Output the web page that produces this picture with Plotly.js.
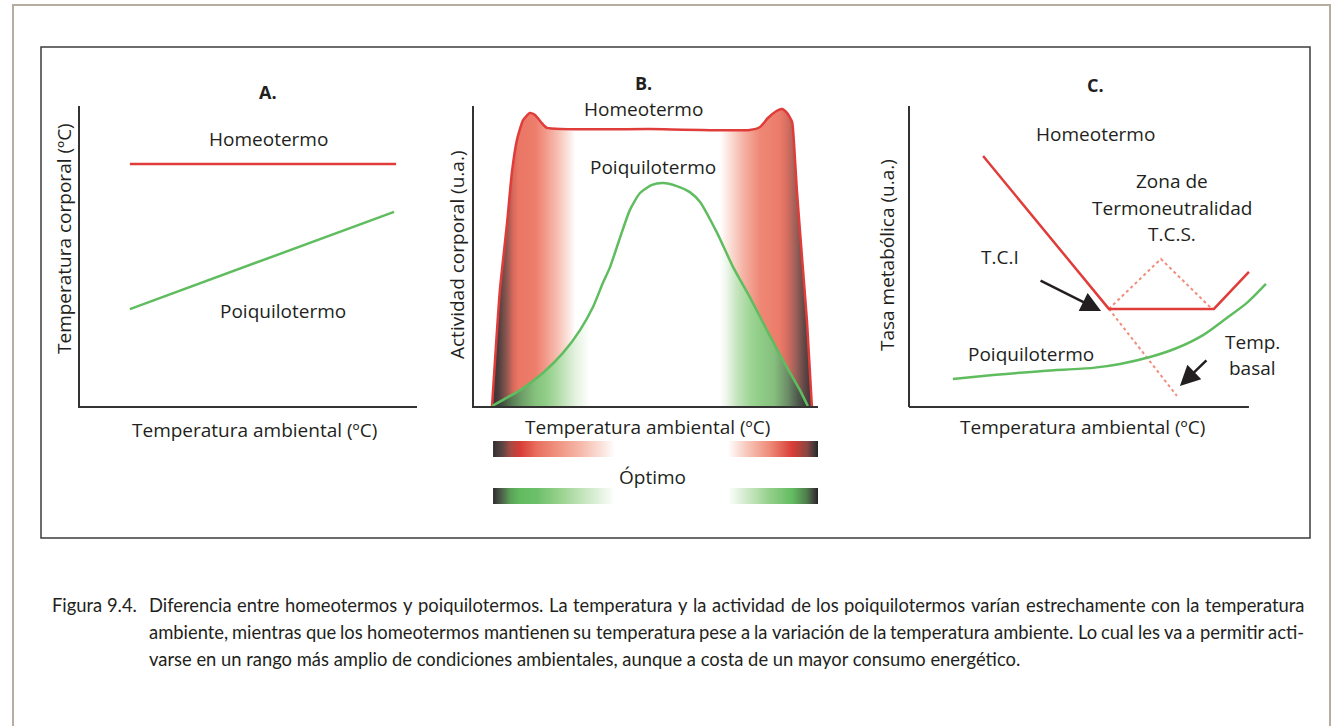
<!DOCTYPE html>
<html><head><meta charset="utf-8">
<script src="https://cdn.plot.ly/plotly-3.0.1.min.js"></script>
<style>html,body{margin:0;padding:0;background:#fff;}#chart{width:1332px;height:726px;}</style>
</head><body><div id="chart"></div>
<script>
// ---------- DATA ----------
// Panel A: temperatura corporal vs ambiental
const aHomeoTemp = [14.8, 93.8];
const aHomeo     = [80.7, 80.7];
const aPoiqTemp  = [14.8, 93.2];
const aPoiq      = [32.3, 64.7];

// Panel B: actividad corporal vs temperatura ambiental
const bHomeoTemp = [5.3, 7.6, 9.7, 11.1, 12.6, 14.4, 16.4, 17.9, 19.9, 21.4, 51.6, 80.9, 83.9, 86.2, 88.3, 90.3, 91.8, 93.3, 93.8, 94.7, 96.2, 97.7, 99.1];
const bHomeo     = [0, 38.7, 61, 77.7, 88.7, 95.3, 97.7, 97, 94.3, 92.7, 92.3, 92, 93, 96, 98, 99, 97.7, 94.7, 88.7, 72, 49.7, 27.7, 0];
const bPoiqTemp  = [5.3, 13.5, 20.2, 26.1, 31.1, 34.9, 37.8, 39.9, 42.8, 45.7, 48.7, 52.2, 55.4, 59.5, 63.3, 66.3, 71.3, 76, 80.9, 85.9, 90.6, 95.6, 97.9];
const bPoiq      = [0, 5.3, 11, 17.7, 25.3, 33, 41, 46.3, 56, 65.3, 71, 73.7, 74.3, 73.3, 71.3, 68, 57.7, 46.3, 36.3, 25.3, 15.3, 5.3, 0];
// "Optimo" bands (temperature extents of the coloured strips)
const bandsTemp  = [[5.6, 41.3], [74.5, 100.9]];

// Panel C: tasa metabólica vs temperatura ambiental
const cHomeoTemp = [21.8, 58.8, 89.7, 100];
const cHomeo     = [83.4, 32.6, 32.6, 44.9];
const cPoiqTemp  = [12.9, 24.7, 39.4, 54.1, 62.1, 70.9, 78.8, 86.5, 93.5, 99.4, 105];
const cPoiq      = [9.3, 10.6, 12.0, 13.0, 14.3, 16.6, 19.6, 23.9, 29.6, 34.6, 40.9];
const cZoneTemp  = [58.8, 74.1, 89.1];
const cZone      = [32.6, 49.2, 32.6];
const cBasalTemp = [58.8, 78.8];
const cBasal     = [32.6, 3.7];

// Text
const captionLabel = 'Figura 9.4.';
const captionLines = [
 'Diferencia entre homeotermos y poiquilotermos. La temperatura y la actividad de los poiquilotermos varían estrechamente con la temperatura',
 'ambiente, mientras que los homeotermos mantienen su temperatura pese a la variación de la temperatura ambiente. Lo cual les va a permitir acti-',
 'varse en un rango más amplio de condiciones ambientales, aunque a costa de un mayor consumo energético.'
];

// ---------- STYLE ----------
const W = 1332, H = 726;
const px = x => x / W, py = y => 1 - y / H;
const RED = '#e03c3a', GREEN = '#5fbd5f', SALMON = '#f28c7c', INK = '#231f20', AX = '#333333';
const FONT = 'Open Sans, Liberation Sans, sans-serif';
const CAP_FAMILY = 'Lato';

function scale(stops, lo, hi) {
  const out = [[0, stops[0][1]]];
  stops.forEach(s => out.push([(s[0] - lo) / (hi - lo), s[1]]));
  out.push([1, stops[stops.length - 1][1]]);
  return out;
}
const B_LO = 0, B_HI = 100.9;
const redFillStops = [[5.3,'#3a3334'],[7,'#4a3b3b'],[9.5,'#8b5650'],[11.5,'#d9695b'],[13,'#ea7665'],[18,'#ee7d6c'],[21,'#f29a8a'],[24,'#f6b9ab'],[27,'#fadcd4'],[29.8,'#ffffff'],[72.2,'#ffffff'],[75,'#fbe0d8'],[79,'#f5b3a4'],[83.9,'#ef8876'],[89.7,'#ec7a69'],[92,'#d46d60'],[94.5,'#9a5f58'],[97,'#5e4745'],[99.2,'#3a3334']];
const greenFillStops = [[5.3,'#333132'],[8,'#3f4a3e'],[11,'#587b55'],[14,'#6e9e68'],[18,'#85c27c'],[21,'#90cd87'],[24,'#a9d9a0'],[27,'#c8e6c1'],[30,'#e6f3e2'],[34,'#ffffff'],[72.2,'#ffffff'],[74,'#eef7ec'],[77,'#c6e5bf'],[81,'#9fd596'],[84,'#8fcd86'],[88,'#86bf7e'],[92,'#6c8d67'],[95,'#4e5a4c'],[98,'#343334']];
const redBandStops = [[5.6,'#262223'],[6.2,'#3d3536'],[8.5,'#5e4543'],[10.6,'#a44a43'],[13.5,'#d83c36'],[18.5,'#e8705f'],[24.3,'#f0917f'],[31.1,'#f5b8a9'],[37.8,'#fbe4dd'],[41.3,'#ffffff'],[74.5,'#ffffff'],[80.1,'#f7c6ba'],[86.8,'#ee8b78'],[93.5,'#d83c36'],[97.7,'#8a4642'],[100,'#3d3536'],[100.9,'#262223']];
const greenBandStops = [[5.6,'#262223'],[6.2,'#3a3a38'],[8.5,'#4f6a4d'],[10.6,'#5aa058'],[13.5,'#62bb60'],[18.5,'#6cc06a'],[24.3,'#92cf88'],[31.1,'#bfe2b7'],[37.8,'#e8f4e4'],[41.3,'#ffffff'],[74.5,'#ffffff'],[80.1,'#cfe9c8'],[86.8,'#93d089'],[93.5,'#62bb60'],[97.7,'#4f7a4d'],[100,'#3a3a38'],[100.9,'#262223']];

function bandPoly(y0, y1) {
  const xs = [], ys = [];
  bandsTemp.forEach((b, i) => {
    if (i) { xs.push(null); ys.push(null); }
    xs.push(b[0], b[1], b[1], b[0], b[0]);
    ys.push(y0, y0, y1, y1, y0);
  });
  return {xs, ys};
}
const redBand = bandPoly(47, 63), greenBand = bandPoly(0, 16);

const traces = [
  {x: aHomeoTemp, y: aHomeo, xaxis:'x', yaxis:'y', mode:'lines', line:{color:RED, width:2.5}, hoverinfo:'skip'},
  {x: aPoiqTemp, y: aPoiq, xaxis:'x', yaxis:'y', mode:'lines', line:{color:GREEN, width:2.5}, hoverinfo:'skip'},
  {x: bHomeoTemp, y: bHomeo, xaxis:'x2', yaxis:'y2', mode:'lines', line:{color:RED, width:2.5, shape:'spline', smoothing:0.5},
   fill:'tozeroy', fillgradient:{type:'horizontal', start:B_LO, stop:B_HI, colorscale:scale(redFillStops, B_LO, B_HI)}, hoverinfo:'skip'},
  {x: bPoiqTemp, y: bPoiq, xaxis:'x2', yaxis:'y2', mode:'lines', line:{color:GREEN, width:2.5, shape:'spline', smoothing:0.6},
   fill:'tozeroy', fillgradient:{type:'horizontal', start:B_LO, stop:B_HI, colorscale:scale(greenFillStops, B_LO, B_HI)}, hoverinfo:'skip'},
  {x: redBand.xs, y: redBand.ys, xaxis:'x2', yaxis:'y4', mode:'lines', line:{width:0}, fill:'toself',
   fillgradient:{type:'horizontal', start:B_LO, stop:B_HI, colorscale:scale(redBandStops, B_LO, B_HI)}, hoverinfo:'skip'},
  {x: greenBand.xs, y: greenBand.ys, xaxis:'x2', yaxis:'y4', mode:'lines', line:{width:0}, fill:'toself',
   fillgradient:{type:'horizontal', start:B_LO, stop:B_HI, colorscale:scale(greenBandStops, B_LO, B_HI)}, hoverinfo:'skip'},
  {x: cZoneTemp, y: cZone, xaxis:'x3', yaxis:'y3', mode:'lines', line:{color:SALMON, width:2, dash:'dot'}, hoverinfo:'skip'},
  {x: cBasalTemp, y: cBasal, xaxis:'x3', yaxis:'y3', mode:'lines', line:{color:SALMON, width:2, dash:'dot'}, hoverinfo:'skip'},
  {x: cHomeoTemp, y: cHomeo, xaxis:'x3', yaxis:'y3', mode:'lines', line:{color:RED, width:2.5}, hoverinfo:'skip'},
  {x: cPoiqTemp, y: cPoiq, xaxis:'x3', yaxis:'y3', mode:'lines', line:{color:GREEN, width:2.5, shape:'spline', smoothing:0.8}, hoverinfo:'skip'}
];

const base = {showgrid:false, zeroline:false, showticklabels:false, ticks:'', fixedrange:true};
const withLine = {showline:true, linecolor:AX, linewidth:2};

function txt(x, y, text, opts) {
  return Object.assign({xref:'paper', yref:'paper', x:px(x), y:py(y), text, showarrow:false,
    xanchor:'center', yanchor:'middle', font:{family:FONT, size:19, color:INK}}, opts || {});
}
const ann = [
  txt(268, 92, '<b>A.</b>', {font:{family:FONT, size:18, color:INK}}), txt(268, 139, 'Homeotermo'), txt(283, 311, 'Poiquilotermo'),
  txt(255, 430, 'Temperatura ambiental (ºC)'), txt(64, 239, 'Temperatura corporal (ºC)', {textangle:-90}),
  txt(643, 83, '<b>B.</b>', {font:{family:FONT, size:18, color:INK}}), txt(643, 109, 'Homeotermo'), txt(653, 167, 'Poiquilotermo'),
  txt(647, 427, 'Temperatura ambiental (ºC)'), txt(457, 255, 'Actividad corporal (u.a.)', {textangle:-90}),
  txt(652, 477, 'Óptimo'),
  txt(1095, 85, '<b>C.</b>', {font:{family:FONT, size:18, color:INK}}), txt(1095, 134, 'Homeotermo'),
  txt(1172, 181, 'Zona de'), txt(1172, 208, 'Termoneutralidad'), txt(1172, 234, 'T.C.S.'),
  txt(1000, 257, 'T.C.I'), txt(1031, 354, 'Poiquilotermo'),
  txt(1252, 342, 'Temp.'), txt(1252, 368, 'basal'),
  txt(1082, 427, 'Temperatura ambiental (ºC)'), txt(887, 255, 'Tasa metabólica (u.a.)', {textangle:-90}),
  {xref:'x3', yref:'y3', x:56.5, y:31.9, ax:-62, ay:-31, text:'', showarrow:true, arrowhead:2, arrowsize:1.6, arrowwidth:2.5, arrowcolor:INK, standoff:0},
  {xref:'x3', yref:'y3', x:79.7, y:7.0, ax:28, ay:-27, text:'', showarrow:true, arrowhead:2, arrowsize:1.6, arrowwidth:2.5, arrowcolor:INK, standoff:0}
];

// ---------- caption (justified) ----------
const ctx = document.createElement('canvas').getContext('2d');
function mw(t, size) { ctx.font = size + 'px "' + CAP_FAMILY + '"'; return ctx.measureText(t).width; }
let capSize = 100 * 872 / mw(captionLines[2], 100);
capSize = Math.max(13, Math.min(19, capSize));
const capFont = {family: CAP_FAMILY, size: capSize, color: INK};
const capY = [605, 632, 659];
const capL = 148, capR = 1303;
const labelX = Math.min(65, 136 - mw(captionLabel, capSize));
ann.push(Object.assign(txt(labelX, capY[0], captionLabel), {xanchor:'left', font:capFont, borderpad:0}));
captionLines.forEach((line, i) => {
  if (i === captionLines.length - 1) {
    ann.push(Object.assign(txt(capL, capY[i], line), {xanchor:'left', font:capFont, borderpad:0}));
    return;
  }
  const words = line.split(' ');
  const widths = words.map(w => mw(w, capSize));
  const total = widths.reduce((a, b) => a + b, 0);
  const gap = (capR - capL - total) / (words.length - 1);
  let x = capL;
  words.forEach((w, k) => {
    ann.push(Object.assign(txt(x, capY[i], w), {xanchor:'left', font:capFont, borderpad:0}));
    x += widths[k] + gap;
  });
});

const layout = {
  width:W, height:H, margin:{l:0, r:0, t:0, b:0}, paper_bgcolor:'#ffffff', plot_bgcolor:'rgba(0,0,0,0)', showlegend:false,
  xaxis: Object.assign({}, base, withLine, {domain:[px(80), px(417)], range:[0, 100], anchor:'y'}),
  yaxis: Object.assign({}, base, withLine, {domain:[py(406), py(106)], range:[0, 100], anchor:'x'}),
  xaxis2: Object.assign({}, base, withLine, {domain:[px(474), px(818)], range:[B_LO, B_HI], anchor:'y2'}),
  yaxis2: Object.assign({}, base, withLine, {domain:[py(406), py(106)], range:[0, 100], anchor:'x2'}),
  yaxis4: Object.assign({}, base, {domain:[py(504), py(441)], range:[0, 63], anchor:'x2'}),
  xaxis3: Object.assign({}, base, {domain:[px(900), px(1270)], range:[-2.65, 106.2], anchor:'y3'}),
  yaxis3: Object.assign({}, base, {domain:[py(412), py(100)], range:[-1.66, 102], anchor:'x3'}),
  shapes: [
    {type:'rect', xref:'paper', yref:'paper', x0:px(13), x1:px(1330), y0:py(5), y1:py(760), line:{color:'#b5ada0', width:2}, layer:'below'},
    {type:'rect', xref:'paper', yref:'paper', x0:px(41), x1:px(1310), y0:py(47), y1:py(538), line:{color:'#3d3d3d', width:1.5}, layer:'below'},
    {type:'line', xref:'x3', yref:'y3', x0:0, x1:0, y0:0, y1:100, line:{color:AX, width:2}},
    {type:'line', xref:'x3', yref:'y3', x0:0, x1:100, y0:0, y1:0, line:{color:AX, width:2}}
  ],
  annotations: ann
};
Plotly.newPlot('chart', traces, layout, {displayModeBar:false, staticPlot:true});
</script></body></html>
